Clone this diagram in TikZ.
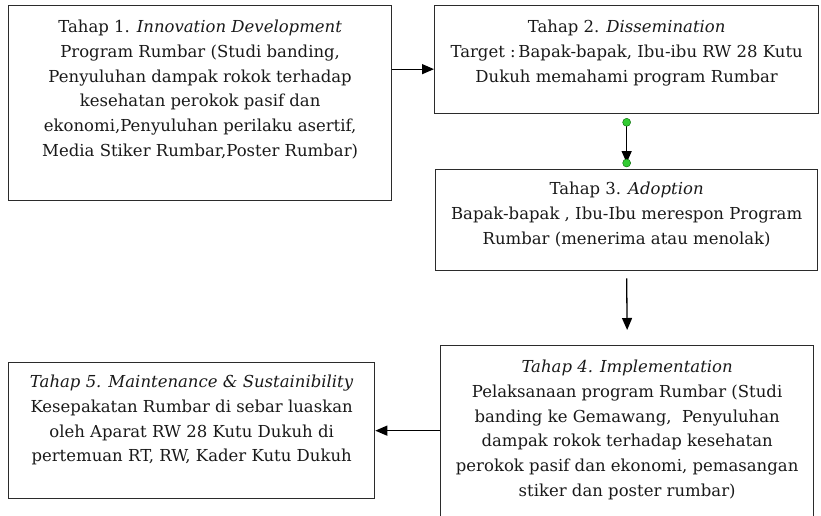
\documentclass[tikz,border=0pt]{standalone}
\usepackage{fontspec}
\setmainfont{DejaVu Serif}
\usetikzlibrary{arrows.meta,positioning}
\definecolor{edgegray}{HTML}{2B2B2B}
\definecolor{handlegreen}{HTML}{33CC33}
\tikzset{
    stagebox/.style={
        draw=edgegray,
        line width=1.3pt,
        inner sep=0pt,
        anchor=north west
    },
    stagetext/.style={
        align=center,
        inner sep=0pt,
        text=black!90,
        font=\fontsize{16.5}{24.7}\selectfont
    },
    flow/.style={
        draw=black,
        line width=1.3pt,
        -{Triangle[width=10pt,length=12pt]}
    },
    handle/.style={
        fill=handlegreen,
        draw=green!40!black,
        line width=0.4pt
    }
}

\begin{document}
\begin{tikzpicture}[x=1pt,y=-1pt]
    \useasboundingbox (0,0) rectangle (821,515);
    \node[stagebox, minimum width=383pt, minimum height=195pt] (b1) at (8,5) {};
    \node[stagebox, minimum width=384pt, minimum height=108pt] (b2) at (434,5) {};
    \node[stagebox, minimum width=382pt, minimum height=101pt] (b3) at (435,169) {};
    \node[stagebox, minimum width=373pt, minimum height=185pt] (b4) at (440,345) {};
    \node[stagebox, minimum width=366pt, minimum height=136pt] (b5) at (8,362) {};

    \node[stagetext, below=15pt of b1.north] (t1) {Tahap 1. \textit{Innovation Development}\\
        Program Rumbar (Studi banding,\\
        Penyuluhan dampak rokok terhadap\\
        kesehatan perokok pasif dan\\
        ekonomi,Penyuluhan perilaku asertif,\\
        Media Stiker Rumbar,Poster Rumbar)};
    \node[stagetext, below=15pt of b2.north] (t2) {Tahap 2. \textit{Dissemination}\\
        Target :\,Bapak-bapak, Ibu-ibu RW 28 Kutu\\
        Dukuh memahami program Rumbar};
    \node[stagetext, below=13pt of b3.north] (t3) {Tahap 3. \textit{Adoption}\\
        Bapak-bapak , Ibu-Ibu merespon Program\\
        Rumbar (menerima atau menolak)};
    \node[stagetext, below=15pt of b4.north] (t4) {\textit{Tahap 4. Implementation}\\
        Pelaksanaan program Rumbar (Studi\\
        banding ke Gemawang,~ Penyuluhan\\
        dampak rokok terhadap kesehatan\\
        perokok pasif dan ekonomi, pemasangan\\
        stiker dan poster rumbar)};
    \node[stagetext, below=13pt of b5.north] (t5) {\textit{Tahap 5. Maintenance \& Sustainibility}\\
        Kesepakatan Rumbar di sebar luaskan\\
        oleh Aparat RW 28 Kutu Dukuh di\\
        pertemuan RT, RW, Kader Kutu Dukuh};

    \coordinate (s23) at ([yshift=-8pt]b2.south);
    \coordinate (e23) at ([yshift=6pt]b3.north);
    \coordinate (s34) at ([yshift=-7pt]b3.south);
    \coordinate (e34) at ([yshift=15pt]b4.north);

    \draw[flow] ([yshift=34pt]b1.east) -- ([yshift=34pt]b1.east -| b2.west);
    \draw[flow] (s23) -- (e23);
    \draw[flow] (s34) -- (e34);
    \draw[flow] (b4.west |- b5.east) -- (b5.east);
    \draw[handle] (s23) circle (4pt) (e23) circle (4pt);
\end{tikzpicture}
\end{document}
